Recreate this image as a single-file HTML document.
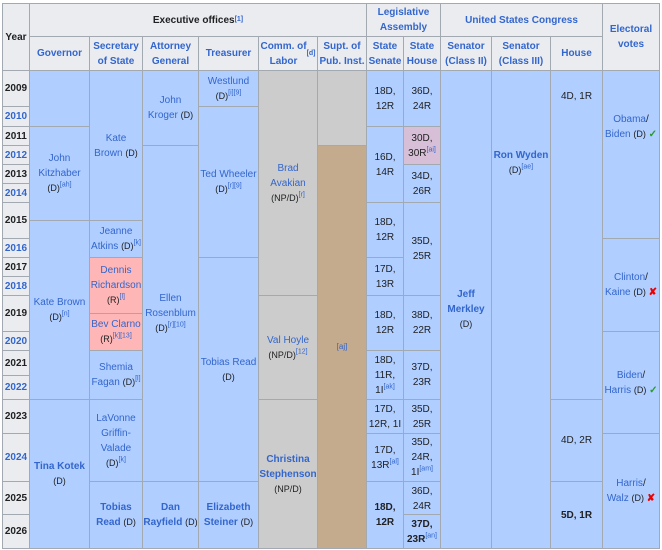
<!DOCTYPE html>
<html><head><meta charset="utf-8"><style>
body{margin:0;background:#fff;width:662px;height:550px;overflow:hidden;font-family:"Liberation Sans",Arial,sans-serif;}
.c{position:absolute;box-sizing:border-box;border:1px solid #a2a9b1;display:flex;align-items:center;justify-content:center;text-align:center;font-size:10px;line-height:15px;color:#202122;}
.h{background:#eaecf0;font-weight:bold;}
.b{background:#b0ceff;}
.p{background:#ffb6b6;}
.g{background:#cccccc;}
.t{background:#c4ab8e;}
.v{background:#d8bfd8;}
a{color:#3366cc;text-decoration:none;}
.s{font-size:9px;}
sup{font-size:7px;color:#3366cc;line-height:0;}
.y{font-weight:bold;background:#eaecf0;font-size:10px;}
.ck{color:#2a9a2a;font-weight:bold}
.x{color:#e00;font-weight:bold}
</style></head><body>
<div class="c h" style="left:2px;top:3px;width:28px;height:68px">Year</div>
<div class="c h" style="left:29px;top:3px;width:338px;height:34px">Executive offices<sup>[1]</sup></div>
<div class="c h" style="left:366px;top:3px;width:75px;height:34px"><a>Legislative<br>Assembly</a></div>
<div class="c h" style="left:440px;top:3px;width:163px;height:34px"><a>United States Congress</a></div>
<div class="c h" style="left:602px;top:3px;width:58px;height:68px;align-items:flex-start;padding-top:18px"><a>Electoral<br>votes</a></div>
<div class="c h" style="left:29px;top:36px;width:61px;height:35px"><a>Governor</a></div>
<div class="c h" style="left:89px;top:36px;width:54px;height:35px"><a>Secretary<br>of State</a></div>
<div class="c h" style="left:142px;top:36px;width:57px;height:35px"><a>Attorney<br>General</a></div>
<div class="c h" style="left:198px;top:36px;width:61px;height:35px"><a>Treasurer</a></div>
<div class="c h" style="left:258px;top:36px;width:60px;height:35px"><a>Comm. of<br>Labor</a><sup>[d]</sup></div>
<div class="c h" style="left:317px;top:36px;width:50px;height:35px"><a>Supt. of<br>Pub. Inst.</a></div>
<div class="c h" style="left:366px;top:36px;width:38px;height:35px"><a>State<br>Senate</a></div>
<div class="c h" style="left:403px;top:36px;width:38px;height:35px"><a>State<br>House</a></div>
<div class="c h" style="left:440px;top:36px;width:52px;height:35px"><a>Senator<br>(Class II)</a></div>
<div class="c h" style="left:491px;top:36px;width:60px;height:35px"><a>Senator<br>(Class III)</a></div>
<div class="c h" style="left:550px;top:36px;width:53px;height:35px"><a>House</a></div>

<div class="c y" style="left:2px;top:70px;width:28px;height:37px">2009</div>
<div class="c y" style="left:2px;top:106px;width:28px;height:21px"><a>2010</a></div>
<div class="c y" style="left:2px;top:126px;width:28px;height:20px">2011</div>
<div class="c y" style="left:2px;top:145px;width:28px;height:20px"><a>2012</a></div>
<div class="c y" style="left:2px;top:164px;width:28px;height:20px">2013</div>
<div class="c y" style="left:2px;top:183px;width:28px;height:20px"><a>2014</a></div>
<div class="c y" style="left:2px;top:202px;width:28px;height:37px">2015</div>
<div class="c y" style="left:2px;top:238px;width:28px;height:20px"><a>2016</a></div>
<div class="c y" style="left:2px;top:257px;width:28px;height:20px">2017</div>
<div class="c y" style="left:2px;top:276px;width:28px;height:20px"><a>2018</a></div>
<div class="c y" style="left:2px;top:295px;width:28px;height:37px">2019</div>
<div class="c y" style="left:2px;top:331px;width:28px;height:20px"><a>2020</a></div>
<div class="c y" style="left:2px;top:350px;width:28px;height:26px">2021</div>
<div class="c y" style="left:2px;top:375px;width:28px;height:25px"><a>2022</a></div>
<div class="c y" style="left:2px;top:399px;width:28px;height:35px">2023</div>
<div class="c y" style="left:2px;top:433px;width:28px;height:49px"><a>2024</a></div>
<div class="c y" style="left:2px;top:481px;width:28px;height:34px">2025</div>
<div class="c y" style="left:2px;top:514px;width:28px;height:35px">2026</div>

<div class="c b" style="left:29px;top:70px;width:61px;height:57px"></div>
<div class="c b" style="left:29px;top:126px;width:61px;height:95px"><span><a>John<br>Kitzhaber</a><br><span class="s">(D)</span><sup>[ah]</sup></span></div>
<div class="c b" style="left:29px;top:220px;width:61px;height:180px"><span><a>Kate Brown</a><br><span class="s">(D)</span><sup>[n]</sup></span></div>
<div class="c b" style="left:29px;top:399px;width:61px;height:150px"><span><a><b>Tina Kotek</b></a><br><span class="s">(D)</span></span></div>

<div class="c b" style="left:89px;top:70px;width:54px;height:151px"><span><a>Kate<br>Brown</a> <span class="s">(D)</span></span></div>
<div class="c b" style="left:89px;top:220px;width:54px;height:38px"><span><a>Jeanne<br>Atkins</a> <span class="s">(D)</span><sup>[k]</sup></span></div>
<div class="c p" style="left:89px;top:257px;width:54px;height:57px"><span><a>Dennis<br>Richardson</a><br><span class="s">(R)</span><sup>[l]</sup></span></div>
<div class="c p" style="left:89px;top:313px;width:54px;height:38px"><span><a>Bev Clarno</a><br><span class="s">(R)</span><sup>[k][13]</sup></span></div>
<div class="c b" style="left:89px;top:350px;width:54px;height:50px"><span><a>Shemia<br>Fagan</a> <span class="s">(D)</span><sup>[l]</sup></span></div>
<div class="c b" style="left:89px;top:399px;width:54px;height:83px"><span><a>LaVonne<br>Griffin-<br>Valade</a><br><span class="s">(D)</span><sup>[k]</sup></span></div>
<div class="c b" style="left:89px;top:481px;width:54px;height:68px"><span><a><b>Tobias<br>Read</b></a> <span class="s">(D)</span></span></div>

<div class="c b" style="left:142px;top:70px;width:57px;height:76px"><span><a>John<br>Kroger</a> <span class="s">(D)</span></span></div>
<div class="c b" style="left:142px;top:145px;width:57px;height:337px"><span><a>Ellen<br>Rosenblum</a><br><span class="s">(D)</span><sup>[r][10]</sup></span></div>
<div class="c b" style="left:142px;top:481px;width:57px;height:68px"><span><a><b>Dan<br>Rayfield</b></a> <span class="s">(D)</span></span></div>

<div class="c b" style="left:198px;top:70px;width:61px;height:37px"><span><a>Westlund</a><br><span class="s">(D)</span><sup>[i][9]</sup></span></div>
<div class="c b" style="left:198px;top:106px;width:61px;height:152px"><span><a>Ted Wheeler</a><br><span class="s">(D)</span><sup>[r][9]</sup></span></div>
<div class="c b" style="left:198px;top:257px;width:61px;height:225px"><span><a>Tobias Read</a><br><span class="s">(D)</span></span></div>
<div class="c b" style="left:198px;top:481px;width:61px;height:68px"><span><a><b>Elizabeth<br>Steiner</b></a> <span class="s">(D)</span></span></div>

<div class="c g" style="left:258px;top:70px;width:60px;height:226px"><span><a>Brad<br>Avakian</a><br><span class="s">(NP/D)</span><sup>[r]</sup></span></div>
<div class="c g" style="left:258px;top:295px;width:60px;height:105px"><span><a>Val Hoyle</a><br><span class="s">(NP/D)</span><sup>[12]</sup></span></div>
<div class="c g" style="left:258px;top:399px;width:60px;height:150px"><span><a><b>Christina<br>Stephenson</b></a><br><span class="s">(NP/D)</span></span></div>

<div class="c g" style="left:317px;top:70px;width:50px;height:76px"></div>
<div class="c t" style="left:317px;top:145px;width:50px;height:404px"><sup style="font-size:8px">[aj]</sup></div>

<div class="c b" style="left:366px;top:70px;width:38px;height:57px">18D,<br>12R</div>
<div class="c b" style="left:366px;top:126px;width:38px;height:77px">16D,<br>14R</div>
<div class="c b" style="left:366px;top:202px;width:38px;height:56px">18D,<br>12R</div>
<div class="c b" style="left:366px;top:257px;width:38px;height:39px">17D,<br>13R</div>
<div class="c b" style="left:366px;top:295px;width:38px;height:56px">18D,<br>12R</div>
<div class="c b" style="left:366px;top:350px;width:38px;height:50px"><span>18D,<br>11R,<br>1I<sup>[ak]</sup></span></div>
<div class="c b" style="left:366px;top:399px;width:38px;height:35px">17D,<br>12R, 1I</div>
<div class="c b" style="left:366px;top:433px;width:38px;height:49px"><span>17D,<br>13R<sup>[al]</sup></span></div>
<div class="c b" style="left:366px;top:481px;width:38px;height:68px"><b>18D,<br>12R</b></div>

<div class="c b" style="left:403px;top:70px;width:38px;height:57px">36D,<br>24R</div>
<div class="c v" style="left:403px;top:126px;width:38px;height:39px"><span>30D,<br>30R<sup>[ai]</sup></span></div>
<div class="c b" style="left:403px;top:164px;width:38px;height:39px">34D,<br>26R</div>
<div class="c b" style="left:403px;top:202px;width:38px;height:94px">35D,<br>25R</div>
<div class="c b" style="left:403px;top:295px;width:38px;height:56px">38D,<br>22R</div>
<div class="c b" style="left:403px;top:350px;width:38px;height:50px">37D,<br>23R</div>
<div class="c b" style="left:403px;top:399px;width:38px;height:35px">35D,<br>25R</div>
<div class="c b" style="left:403px;top:433px;width:38px;height:49px"><span>35D,<br>24R,<br>1I<sup>[am]</sup></span></div>
<div class="c b" style="left:403px;top:481px;width:38px;height:35px">36D,<br>24R</div>
<div class="c b" style="left:403px;top:514px;width:38px;height:35px"><span><b>37D,<br>23R</b><sup>[an]</sup></span></div>

<div class="c b" style="left:440px;top:70px;width:52px;height:479px"><span><a><b>Jeff<br>Merkley</b></a><br><span class="s">(D)</span></span></div>
<div class="c b" style="left:491px;top:70px;width:60px;height:479px;align-items:flex-start;padding-top:77px"><span><a><b>Ron Wyden</b></a><br><span class="s">(D)</span><sup>[ae]</sup></span></div>
<div class="c b" style="left:550px;top:70px;width:53px;height:330px;align-items:flex-start;padding-top:18px">4D, 1R</div>
<div class="c b" style="left:550px;top:399px;width:53px;height:83px">4D, 2R</div>
<div class="c b" style="left:550px;top:481px;width:53px;height:68px"><b>5D, 1R</b></div>

<div class="c b" style="left:602px;top:70px;width:58px;height:169px;padding-bottom:56px"><span><a>Obama</a>/<br><a>Biden</a> <span class="s">(D)</span> <span class="ck">✓</span></span></div>
<div class="c b" style="left:602px;top:238px;width:58px;height:94px"><span><a>Clinton</a>/<br><a>Kaine</a> <span class="s">(D)</span> <span class="x">✘</span></span></div>
<div class="c b" style="left:602px;top:331px;width:58px;height:103px"><span><a>Biden</a>/<br><a>Harris</a> <span class="s">(D)</span> <span class="ck">✓</span></span></div>
<div class="c b" style="left:602px;top:433px;width:58px;height:116px"><span><a>Harris</a>/<br><a>Walz</a> <span class="s">(D)</span> <span class="x">✘</span></span></div>
</body></html>
